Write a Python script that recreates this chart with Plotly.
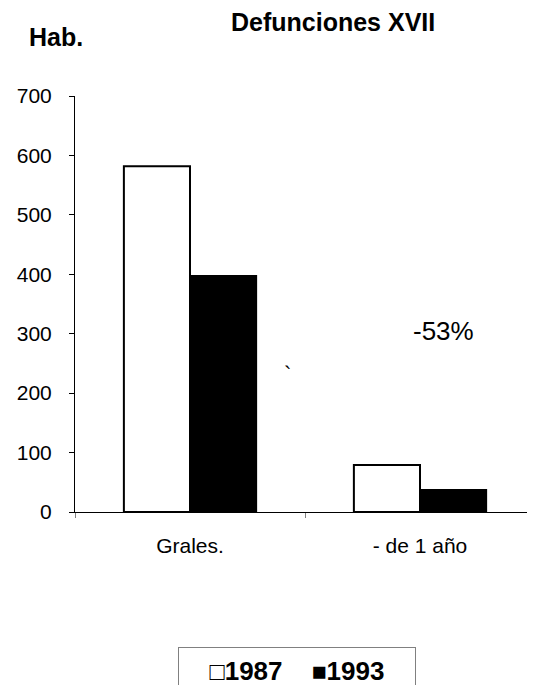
import plotly.graph_objects as go

categories = ["Grales.", "- de 1 año"]
series_names = ["1987", "1993"]
values_1987 = [582, 79]
values_1993 = [397, 37]
y_ticks = [0, 100, 200, 300, 400, 500, 600, 700]

FONT = "Arial, Liberation Sans, sans-serif"

fig = go.Figure()
fig.add_trace(go.Bar(x=categories, y=values_1987, name=series_names[0],
                     marker=dict(color="white", line=dict(color="black", width=2))))
fig.add_trace(go.Bar(x=categories, y=values_1993, name=series_names[1],
                     marker=dict(color="black", line=dict(color="black", width=2))))

# page body has an 8px margin; figure sized to fit inside the 535x693 window
OFF = 8
W, H = 535 - OFF, 693 - 2 * OFF
L, T = 75 - OFF, 96 - OFF
B = H - (512 - OFF)
R = 0
pw, ph = W - L - R, H - T - B

def px(x):
    return (x - OFF - L) / pw

def py(y):
    return (H - B - (y - OFF)) / ph

fig.update_layout(
    width=W, height=H,
    margin=dict(l=L, r=R, t=T, b=B),
    paper_bgcolor="white", plot_bgcolor="white",
    font=dict(family=FONT, size=21, color="black"),
    barmode="group", bargap=0.425, bargroupgap=0,
    showlegend=False,
    xaxis=dict(showline=True, linecolor="black", linewidth=1,
               ticks="outside", tickson="boundaries", ticklen=5, tickcolor="#808080",
               showgrid=False, zeroline=False, range=[-0.5, 1.5],
               tickfont=dict(size=21), ticklabelstandoff=15),
    yaxis=dict(range=[0, 700], tickvals=y_ticks, showline=True, linecolor="black",
               linewidth=1, ticks="outside", ticklen=5, tickcolor="black",
               showgrid=False, zeroline=False, tickfont=dict(size=21),
               ticklabelstandoff=13),
)

def note(text, x, y, size, **kw):
    fig.add_annotation(text=text, xref="paper", yref="paper",
                       x=px(x), y=py(y), xanchor="center", yanchor="middle",
                       showarrow=False, font=dict(size=size, family=FONT, color="black"),
                       **kw)

note("<b>Defunciones XVII</b>", 333, 22, 25)
note("<b>Hab.</b>", 56, 37, 25)
note("-53%", 443, 331, 26)
note("`", 287, 374, 22)

# legend box (open square = 1987, filled square = 1993)
nb = "\u00a0"
legend_text = (f"<span style='font-size:25px'>\u25a1</span><b>{series_names[0]}</b>"
               f"{nb*4}<span style='font-size:25px'>\u25a0</span><b>{series_names[1]}</b>")
note(legend_text, 297, 671, 26,
     width=230, height=40, borderpad=3, bordercolor="#808080",
     borderwidth=1, bgcolor="white", align="center", valign="middle")

fig.write_html("out.html")
